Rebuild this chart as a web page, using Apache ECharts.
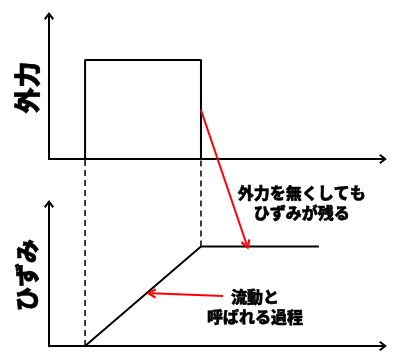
<!DOCTYPE html>
<html>
<head>
<meta charset="utf-8">
<script src="https://cdn.jsdelivr.net/npm/echarts@6/dist/echarts.min.js"></script>
<style>html,body{margin:0;padding:0;background:#fff;}#c{width:398px;height:357px;}</style>
</head>
<body>
<div id="c"></div>
<script>
// Top panel: external force (rectangular pulse)
var forceTimes = [10.8, 10.8, 45.5, 45.5];
var forceValues = [0, 69.2, 69.2, 0];
// Bottom panel: strain (ramp then plateau)
var strainTimes = [10.8, 45.5, 80.8];
var strainValues = [0, 70, 70];
// Dashed guide lines (bottom grid coords, extend up to top x-axis)
var guideTimes = [10.8, 45.5];
var guideFrom = [0, 70];
var guideTo = [131.7, 131.7];
// Red annotation arrows (bottom grid coords)
var arrow1 = [[45.5, 166.2], [59.2, 71.3]];
var arrow2 = [[52.1, 35.2], [30.7, 37.1]];
// Annotation texts
var note1 = {x: 75.7, y: 100.9, text: '外力を無くしても\nひずみが残る'};
var note2 = {x: 61.7, y: 27.7, text: '流動と\n呼ばれる過程'};
var yNames = ['外力', 'ひずみ'];

var FONT = '"Noto Sans CJK JP", "Noto Sans", sans-serif';
var chevron = 'path://M5,0 L10,6.5 L8.4,7.8 L5,3.2 L1.6,7.8 L0,6.5 Z';

function zip(a, b) { return a.map(function (v, i) { return [v, b[i]]; }); }

function xAx(i) {
  return {
    gridIndex: i, type: 'value', min: 0, max: 100,
    axisLine: {show: true, onZero: false, lineStyle: {color: '#000', width: 2}, symbol: ['none', chevron], symbolSize: [10, 9]},
    axisTick: {show: false}, axisLabel: {show: false}, splitLine: {show: false}
  };
}
function yAx(i, name, size, gap) {
  return {
    gridIndex: i, type: 'value', min: 0, max: 100,
    name: name, nameLocation: 'middle', nameGap: gap, nameRotate: 90,
    nameTextStyle: {fontFamily: FONT, fontWeight: 900, fontSize: size, color: '#000', textBorderColor: '#000', textBorderWidth: 0.6},
    axisLine: {show: true, onZero: false, lineStyle: {color: '#000', width: 2}, symbol: ['none', chevron], symbolSize: [10, 9]},
    axisTick: {show: false}, axisLabel: {show: false}, splitLine: {show: false}
  };
}

var series = [];
series.push({type: 'line', xAxisIndex: 0, yAxisIndex: 0, data: zip(forceTimes, forceValues), showSymbol: false, symbol: 'none', clip: false,
  lineStyle: {color: '#000', width: 2}, animation: false});
series.push({type: 'line', xAxisIndex: 1, yAxisIndex: 1, data: zip(strainTimes, strainValues), showSymbol: false, symbol: 'none', clip: false,
  lineStyle: {color: '#000', width: 2}, animation: false});
guideTimes.forEach(function (t, i) {
  series.push({type: 'line', xAxisIndex: 1, yAxisIndex: 1, data: [[t, guideFrom[i]], [t, guideTo[i]]], showSymbol: false, symbol: 'none', clip: false,
    lineStyle: {color: '#000', width: 1.5, type: [6, 4]}, animation: false, z: 1});
});
series.push({type: 'lines', coordinateSystem: 'cartesian2d', xAxisIndex: 1, yAxisIndex: 1, clip: false,
  symbol: ['none', chevron], symbolSize: [10, 10],
  lineStyle: {color: '#ff0000', width: 2, opacity: 1}, animation: false, z: 5,
  data: [{coords: arrow1}, {coords: arrow2}]});
[note1, note2].forEach(function (n) {
  series.push({type: 'scatter', xAxisIndex: 1, yAxisIndex: 1, clip: false, symbolSize: 1, itemStyle: {color: 'rgba(255,255,255,0)'}, animation: false,
    data: [[n.x, n.y]], silent: true,
    label: {show: true, position: 'inside', formatter: n.text, fontFamily: FONT, fontWeight: 900, fontSize: 16, lineHeight: 20, color: '#000',
      textBorderColor: '#000', textBorderWidth: 0.5, align: 'center', verticalAlign: 'middle', opacity: 1}});
});

var chart = echarts.init(document.getElementById('c'), null, {renderer: 'canvas'});
chart.setOption({
  backgroundColor: '#fff',
  animation: false,
  grid: [
    {left: 49, right: 15, top: 16, bottom: 198},
    {left: 49, right: 15, top: 204, bottom: 11}
  ],
  xAxis: [xAx(0), xAx(1)],
  yAxis: [yAx(0, yNames[0], 26, 9), yAx(1, yNames[1], 24, 10)],
  series: series
});
</script>
</body>
</html>
